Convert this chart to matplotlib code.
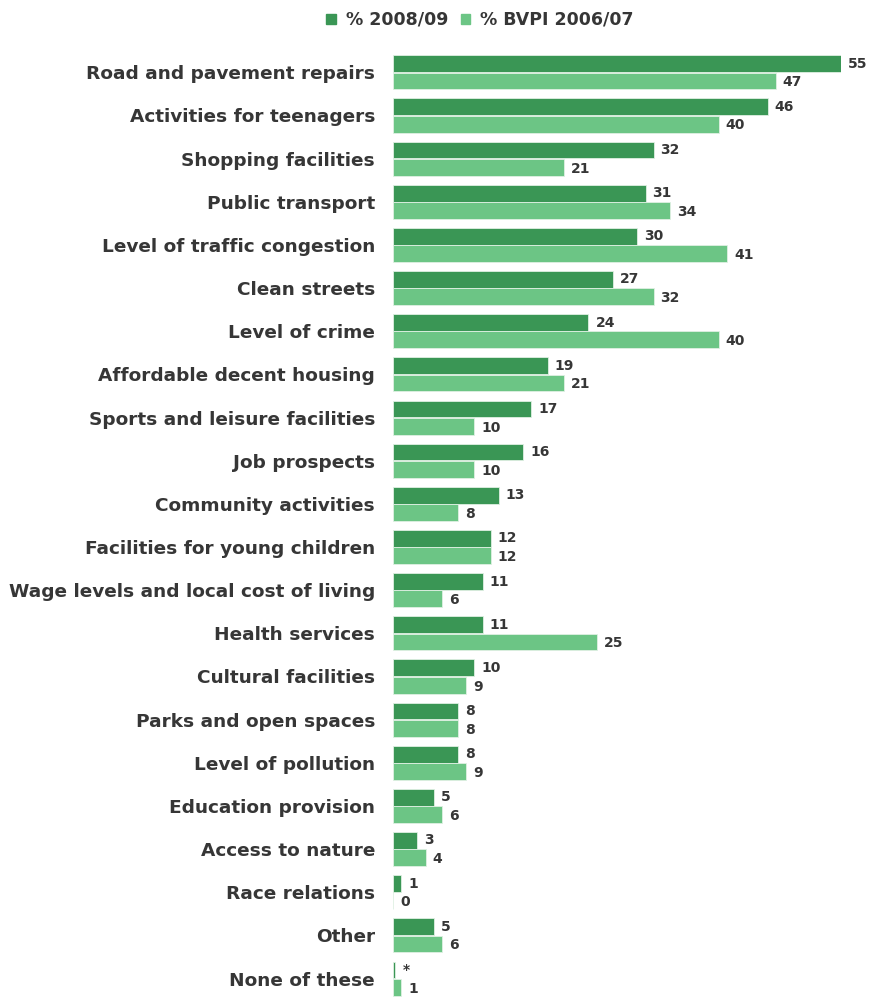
import matplotlib.pyplot as plt
from matplotlib.patches import Patch

# categories, top to bottom
categories = ['Road and pavement repairs', 'Activities for teenagers', 'Shopping facilities',
              'Public transport', 'Level of traffic congestion', 'Clean streets', 'Level of crime',
              'Affordable decent housing', 'Sports and leisure facilities', 'Job prospects',
              'Community activities', 'Facilities for young children',
              'Wage levels and local cost of living', 'Health services', 'Cultural facilities',
              'Parks and open spaces', 'Level of pollution', 'Education provision',
              'Access to nature', 'Race relations', 'Other', 'None of these']

# % 2008/09 (None of these is "*", a tiny value)
vals_0809 = [55, 46, 32, 31, 30, 27, 24, 19, 17, 16, 13, 12, 11, 11, 10, 8, 8, 5, 3, 1, 5, 0.3]
labels_0809 = ['55', '46', '32', '31', '30', '27', '24', '19', '17', '16', '13', '12', '11',
               '11', '10', '8', '8', '5', '3', '1', '5', '*']
# % BVPI 2006/07
vals_0607 = [47, 40, 21, 34, 41, 32, 40, 21, 10, 10, 8, 12, 6, 25, 9, 8, 9, 6, 4, 0, 6, 1]
labels_0607 = [str(v) for v in vals_0607]

dark = '#3a9655'
light = '#6cc585'
txt = '#363636'

plt.rcParams['font.family'] = ['DejaVu Sans']

fig = plt.figure(figsize=(8.7, 9.98), dpi=100)
ax = fig.add_axes([393 / 870, 0.0, (841 - 393) / 870, 0.947])

pos = list(range(len(categories)))
h = 0.39
ax.barh([p - 0.2 for p in pos], vals_0809, height=h, color=dark, edgecolor='#dff0e3', linewidth=0.6)
ax.barh([p + 0.2 for p in pos], vals_0607, height=h, color=light, edgecolor='#dff0e3', linewidth=0.6)

for p, v, l in zip(pos, vals_0809, labels_0809):
    ax.annotate(l, (v, p - 0.2), xytext=(5, 0), textcoords='offset points',
                va='center', ha='left', fontsize=10, fontweight='bold', color=txt,
                annotation_clip=False)
for p, v, l in zip(pos, vals_0607, labels_0607):
    ax.annotate(l, (v, p + 0.2), xytext=(5, -1), textcoords='offset points',
                va='center', ha='left', fontsize=10, fontweight='bold', color=txt,
                annotation_clip=False)

ax.set_xlim(0, 55)
ax.set_ylim(21.45, -0.45)
ax.set_yticks(pos)
ax.set_yticklabels(categories, fontsize=13.3, color=txt, fontweight='bold')
ax.tick_params(axis='y', length=0, pad=13)
ax.set_xticks([])
for s in ax.spines.values():
    s.set_visible(False)

handles = [Patch(color=dark, label='% 2008/09'), Patch(color=light, label='% BVPI 2006/07')]
fig.legend(handles=handles, loc='center', bbox_to_anchor=(480 / 870, 1 - 20 / 998), ncol=2,
           frameon=False, handlelength=0.55, handleheight=0.55,
           handletextpad=0.6, columnspacing=0.7, labelcolor=txt,
           prop={'weight': 'bold', 'size': 12.5})

fig.savefig('out.png', dpi=100)
